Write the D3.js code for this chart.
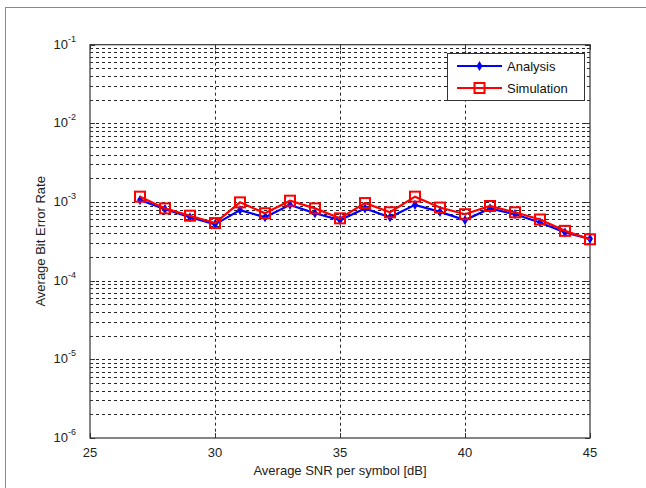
<!DOCTYPE html>
<html>
<head>
<meta charset="utf-8">
<script src="https://cdn.jsdelivr.net/npm/d3@7"></script>
<style>
  body { margin: 0; background: #fff; }
  svg { display: block; font-family: "Liberation Sans", Arial, sans-serif; }
</style>
</head>
<body>
<script>
const svgW = 646;
const svgH = 488;

// data
const snr = [27, 28, 29, 30, 31, 32, 33, 34, 35, 36, 37, 38, 39, 40, 41, 42, 43, 44, 45];
const analysis = [1.06e-3, 8.1e-4, 6.4e-4, 5.2e-4, 7.9e-4, 6.4e-4, 9.2e-4, 7.2e-4, 5.9e-4, 8.3e-4,
                  6.4e-4, 9.2e-4, 7.5e-4, 5.9e-4, 8.3e-4, 7.0e-4, 5.5e-4, 4.1e-4, 3.4e-4];
const simulation = [1.17e-3, 8.3e-4, 6.7e-4, 5.4e-4, 9.9e-4, 7.2e-4, 1.04e-3, 8.3e-4, 6.2e-4, 9.7e-4,
                    7.4e-4, 1.17e-3, 8.5e-4, 7.0e-4, 8.9e-4, 7.4e-4, 6.0e-4, 4.3e-4, 3.36e-4];
const xTicks = [25, 30, 35, 40, 45];
const yExps = [-1, -2, -3, -4, -5, -6];
const seriesNames = ['Analysis', 'Simulation'];

const pLeft = 90, pRight = 590, pTop = 44.7, pBottom = 438;

const svg = d3.select('body')
              .append('svg')
              .attr('width', svgW)
              .attr('height', svgH);

// outer frame
svg.append('rect')
    .attr('x', 5.5).attr('y', 7.5)
    .attr('width', 700).attr('height', 600)
    .attr('fill', 'none')
    .attr('stroke', '#8a8a8a');

const x = d3.scaleLinear().domain([25, 45]).range([pLeft, pRight]);
const y = d3.scaleLog().domain([1e-6, 1e-1]).range([pBottom, pTop]);

// log grid values (decades + minor)
const gridVals = [];
for (let e = -6; e <= -2; e++) {
  for (let m = 1; m <= 9; m++) {
    const v = m * Math.pow(10, e);
    if (v > 1e-6 * 1.0001) gridVals.push(v);
  }
}

const grid = svg.append('g').attr('stroke', '#000').attr('stroke-width', 1)
                .attr('stroke-dasharray', '3,3');
grid.selectAll('line.h')
    .data(gridVals)
    .enter()
    .append('line')
    .attr('x1', pLeft).attr('x2', pRight)
    .attr('y1', d => Math.round(y(d)) + 0.5)
    .attr('y2', d => Math.round(y(d)) + 0.5)
    .attr('stroke-opacity', 0.85);
grid.selectAll('line.v')
    .data(xTicks.slice(1, -1))
    .enter()
    .append('line')
    .attr('y1', pTop).attr('y2', pBottom)
    .attr('x1', d => Math.round(x(d)) + 0.5)
    .attr('x2', d => Math.round(x(d)) + 0.5)
    .attr('stroke-opacity', 0.85);

// axes box and ticks
const axisG = svg.append('g').attr('stroke', '#333').attr('fill', 'none');
axisG.append('rect')
    .attr('x', pLeft).attr('y', pTop)
    .attr('width', pRight - pLeft).attr('height', pBottom - pTop)
    .attr('stroke-width', 1.2);

// y ticks (major longer, minor shorter) on both sides
gridVals.concat([1e-6, 1e-1]).forEach(v => {
  const isMajor = Math.abs(Math.log10(v) - Math.round(Math.log10(v))) < 1e-6;
  const len = isMajor ? 5 : 3;
  const yy = Math.round(y(v)) + 0.5;
  axisG.append('line').attr('x1', pLeft).attr('x2', pLeft + len).attr('y1', yy).attr('y2', yy);
  axisG.append('line').attr('x1', pRight).attr('x2', pRight - len).attr('y1', yy).attr('y2', yy);
});
xTicks.forEach(t => {
  const xx = Math.round(x(t)) + 0.5;
  axisG.append('line').attr('x1', xx).attr('x2', xx).attr('y1', pBottom).attr('y2', pBottom - 5);
  axisG.append('line').attr('x1', xx).attr('x2', xx).attr('y1', pTop).attr('y2', pTop + 5);
});

// tick labels
svg.selectAll('text.xt')
    .data(xTicks)
    .enter()
    .append('text')
    .attr('x', d => x(d))
    .attr('y', pBottom + 19)
    .attr('text-anchor', 'middle')
    .attr('font-size', 13)
    .attr('fill', '#222')
    .text(d => d);

const yl = svg.selectAll('text.yt')
    .data(yExps)
    .enter()
    .append('text')
    .attr('x', pLeft - 14)
    .attr('y', d => y(Math.pow(10, d)) + 4)
    .attr('text-anchor', 'end')
    .attr('font-size', 13)
    .attr('fill', '#222');
yl.append('tspan').text('10');
yl.append('tspan')
    .attr('font-size', 9)
    .attr('dy', -7)
    .text(d => d);

// axis titles
svg.append('text')
    .attr('x', x(35))
    .attr('y', pBottom + 37)
    .attr('text-anchor', 'middle')
    .attr('font-size', 13)
    .attr('fill', '#222')
    .text('Average SNR per symbol [dB]');
svg.append('text')
    .attr('transform', `translate(45, ${(pTop + pBottom) / 2}) rotate(-90)`)
    .attr('text-anchor', 'middle')
    .attr('font-size', 13)
    .attr('fill', '#222')
    .text('Average Bit Error Rate');

// series
const line = d3.line()
    .x((d, i) => x(snr[i]))
    .y(d => y(d));

const diamond = d3.symbol().type(d3.symbolDiamond).size(30);

svg.append('path')
    .datum(analysis)
    .attr('d', line)
    .attr('fill', 'none')
    .attr('stroke', '#0000ff')
    .attr('stroke-width', 2.2);
svg.selectAll('path.am')
    .data(analysis)
    .enter()
    .append('path')
    .attr('transform', (d, i) => `translate(${x(snr[i])}, ${y(d)})`)
    .attr('d', diamond)
    .attr('fill', '#0000ff');

svg.append('path')
    .datum(simulation)
    .attr('d', line)
    .attr('fill', 'none')
    .attr('stroke', '#ff0000')
    .attr('stroke-width', 2.2);
svg.selectAll('rect.sm')
    .data(simulation)
    .enter()
    .append('rect')
    .attr('x', (d, i) => x(snr[i]) - 5)
    .attr('y', d => y(d) - 5)
    .attr('width', 10).attr('height', 10)
    .attr('fill', 'none')
    .attr('stroke', '#ff0000')
    .attr('stroke-width', 2);

// legend
const lg = svg.append('g');
lg.append('rect')
    .attr('x', 447.5).attr('y', 53.5)
    .attr('width', 137).attr('height', 47)
    .attr('fill', '#fff')
    .attr('stroke', '#333');
const colors = ['#0000ff', '#ff0000'];
seriesNames.forEach((name, i) => {
  const yy = 66 + i * 22;
  lg.append('line')
      .attr('x1', 457).attr('x2', 502)
      .attr('y1', yy).attr('y2', yy)
      .attr('stroke', colors[i])
      .attr('stroke-width', 2.2);
  if (i === 0) {
    lg.append('path')
        .attr('transform', `translate(479.5, ${yy})`)
        .attr('d', diamond)
        .attr('fill', colors[i]);
  } else {
    lg.append('rect')
        .attr('x', 474.5).attr('y', yy - 5)
        .attr('width', 10).attr('height', 10)
        .attr('fill', 'none')
        .attr('stroke', colors[i])
        .attr('stroke-width', 2);
  }
  lg.append('text')
      .attr('x', 507)
      .attr('y', yy + 5)
      .attr('font-size', 13)
      .attr('fill', '#111')
      .text(name);
});
</script>
</body>
</html>
